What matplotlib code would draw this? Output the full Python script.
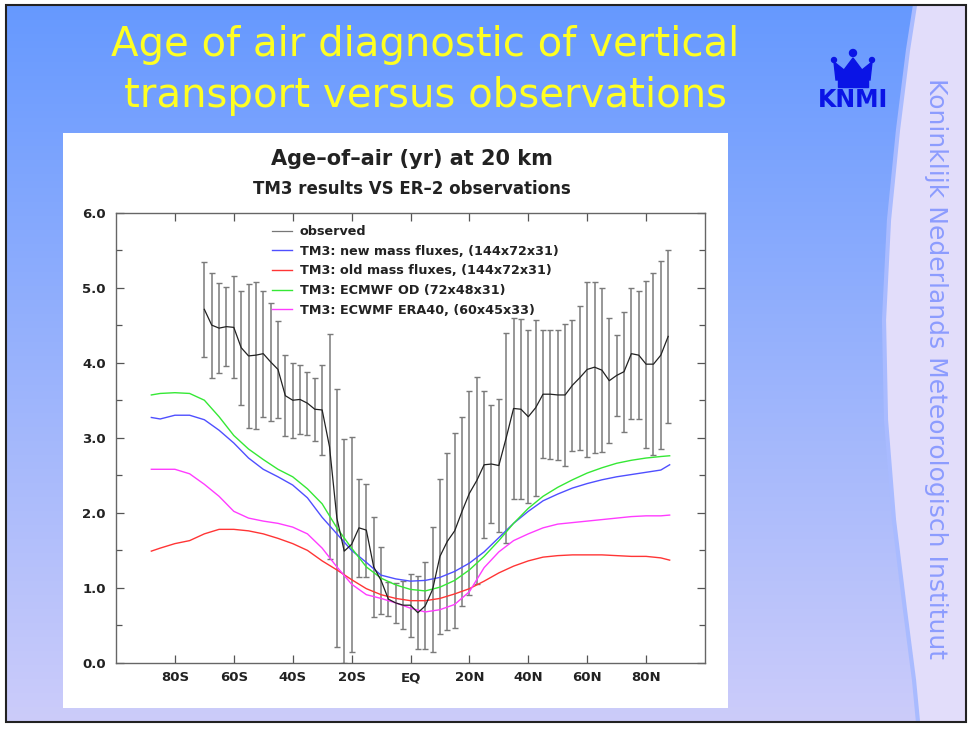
import numpy as np
import matplotlib
matplotlib.use("Agg")
import matplotlib.pyplot as plt
from matplotlib.patches import Rectangle, Polygon, Circle

# ---------------- data ----------------
# ER-2 observed age of air at 20 km (mean and 1-sigma spread)
obs_lat = [-70, -67.5, -65, -62.5, -60, -57.5, -55, -52.5, -50, -47.5,
           -45, -42.5, -40, -37.5, -35, -32.5, -30, -27.5, -25, -22.5,
           -20, -17.5, -15, -12.5, -10, -7.5, -5, -2.5, 0, 2.5,
           5, 7.5, 10, 12.5, 15, 17.5, 20, 22.5, 25, 27.5,
           30, 32.5, 35, 37.5, 40, 42.5, 45, 47.5, 50, 52.5,
           55, 57.5, 60, 62.5, 65, 67.5, 70, 72.5, 75, 77.5,
           80, 82.5, 85, 87.5]
obs_mean = [4.71, 4.50, 4.46, 4.48, 4.47, 4.20, 4.09, 4.10, 4.12, 4.01,
            3.91, 3.56, 3.50, 3.51, 3.46, 3.38, 3.37, 2.88, 1.93, 1.49,
            1.58, 1.80, 1.77, 1.28, 1.10, 0.85, 0.80, 0.77, 0.77, 0.67,
            0.76, 0.98, 1.42, 1.62, 1.76, 2.02, 2.26, 2.43, 2.64, 2.65,
            2.63, 3.00, 3.39, 3.38, 3.28, 3.40, 3.58, 3.58, 3.57, 3.57,
            3.70, 3.80, 3.91, 3.94, 3.90, 3.76, 3.83, 3.88, 4.12, 4.10,
            3.98, 3.98, 4.10, 4.35]
obs_err = [0.63, 0.70, 0.60, 0.53, 0.68, 0.76, 0.96, 0.98, 0.84, 0.79,
           0.65, 0.54, 0.50, 0.46, 0.42, 0.42, 0.60, 1.50, 1.72, 1.49,
           1.43, 0.65, 0.62, 0.67, 0.45, 0.23, 0.27, 0.32, 0.42, 0.49,
           0.58, 0.83, 1.03, 1.18, 1.30, 1.26, 1.36, 1.38, 0.98, 0.79,
           0.89, 1.40, 1.21, 1.20, 1.15, 1.17, 0.85, 0.86, 0.87, 0.95,
           0.87, 0.96, 1.17, 1.14, 1.09, 0.83, 0.54, 0.80, 0.87, 0.85,
           1.11, 1.21, 1.25, 1.15]

# TM3 zonal-mean age of air at 20 km
model_lat = [-88, -85, -80, -75, -70, -65, -60, -55, -50, -45, -40, -35,
             -30, -25, -20, -15, -10, -5, 0, 5, 10, 15, 20, 25, 30, 35,
             40, 45, 50, 55, 60, 65, 70, 75, 80, 85, 88]
tm3_new = [3.27, 3.25, 3.30, 3.30, 3.24, 3.10, 2.93, 2.73, 2.58, 2.48, 2.37, 2.20,
           1.94, 1.72, 1.50, 1.34, 1.17, 1.12, 1.09, 1.10, 1.14, 1.22, 1.33, 1.48,
           1.67, 1.86, 2.02, 2.16, 2.25, 2.33, 2.39, 2.44, 2.48, 2.51, 2.54, 2.57, 2.64]
tm3_old = [1.49, 1.53, 1.59, 1.63, 1.72, 1.78, 1.78, 1.76, 1.72, 1.66, 1.59, 1.50,
           1.36, 1.24, 1.11, 0.99, 0.91, 0.86, 0.83, 0.83, 0.86, 0.92, 0.99, 1.09,
           1.20, 1.29, 1.36, 1.41, 1.43, 1.44, 1.44, 1.44, 1.43, 1.42, 1.42, 1.40, 1.37]
tm3_od = [3.57, 3.59, 3.60, 3.59, 3.50, 3.28, 3.03, 2.85, 2.71, 2.58, 2.48, 2.32,
          2.12, 1.80, 1.53, 1.28, 1.13, 1.04, 0.98, 0.96, 1.01, 1.10, 1.24, 1.42,
          1.63, 1.86, 2.06, 2.22, 2.34, 2.44, 2.53, 2.60, 2.66, 2.70, 2.73, 2.75, 2.76]
tm3_era40 = [2.58, 2.58, 2.58, 2.52, 2.38, 2.22, 2.02, 1.93, 1.89, 1.86, 1.81, 1.72,
             1.53, 1.28, 1.05, 0.91, 0.86, 0.80, 0.73, 0.68, 0.71, 0.78, 0.95, 1.27,
             1.48, 1.63, 1.72, 1.80, 1.85, 1.87, 1.89, 1.91, 1.93, 1.95, 1.96, 1.96, 1.97]

lat_ticks = [-80, -60, -40, -20, 0, 20, 40, 60, 80]
lat_labels = ["80S", "60S", "40S", "20S", "EQ", "20N", "40N", "60N", "80N"]
age_ticks = [0, 1, 2, 3, 4, 5, 6]
age_labels = ["0.0", "1.0", "2.0", "3.0", "4.0", "5.0", "6.0"]

series_labels = ["observed",
                 "TM3: new mass fluxes, (144x72x31)",
                 "TM3: old mass fluxes, (144x72x31)",
                 "TM3: ECMWF OD (72x48x31)",
                 "TM3: ECWMF ERA40, (60x45x33)"]

W, H = 971, 731
fig = plt.figure(figsize=(W / 100, H / 100), dpi=100)
fig.patch.set_facecolor("white")

# ---------------- slide background ----------------
bg = fig.add_axes([0, 0, 1, 1])
bg.set_xlim(0, W)
bg.set_ylim(H, 0)
bg.axis("off")

top_c = np.array([0.40, 0.60, 1.00])
bot_c = np.array([0.80, 0.80, 0.98])
t = np.linspace(0, 1, 256)[:, None, None]
grad = top_c[None, None, :] * (1 - t) + bot_c[None, None, :] * t
bg.imshow(grad, extent=[6, 966, 722, 5], aspect="auto", zorder=0)

# lavender side strip with a curved edge
edge = [(915, 5), (908, 50), (898, 130), (889, 220), (884, 320), (886, 420),
        (894, 520), (905, 610), (914, 680), (918, 722)]
strip = Polygon(edge + [(966, 722), (966, 5)], closed=True,
                facecolor="#e2ddfa", edgecolor="none", zorder=1)
bg.add_patch(strip)
ex, ey = zip(*edge)
bg.plot(ex, ey, color="#a9bbff", lw=3.0, zorder=2, solid_capstyle="butt")

bg.text(936, 368, "Koninklijk Nederlands Meteorologisch Instituut",
        rotation=-90, ha="center", va="center", fontsize=18,
        color="#8c9cff", family=["DejaVu Sans"], zorder=3)

# KNMI logo
blue = "#0a14e6"
bg.text(853, 100, "KNMI", ha="center", va="center", fontsize=17,
        fontweight="bold", color=blue,
        family=["Liberation Sans Narrow", "DejaVu Sans Condensed", "DejaVu Sans"],
        zorder=3)
bg.add_patch(Rectangle((838, 80), 30, 7, color=blue, zorder=3))
bg.add_patch(Polygon([(836, 80), (834, 62), (844, 70), (853, 58), (862, 70),
                      (872, 62), (870, 80)], closed=True, color=blue, zorder=3))
for cx, cy, r in [(853, 53, 3.5), (834, 60, 2.5), (872, 60, 2.5)]:
    bg.add_patch(Circle((cx, cy), r, color=blue, zorder=3))

# slide title
title_font = ["Liberation Sans Narrow", "DejaVu Sans Condensed", "DejaVu Sans"]
bg.text(425, 45, "Age of air diagnostic of vertical", ha="center", va="center",
        fontsize=29, color="#ffff22", family=title_font, zorder=3)
bg.text(425, 96, "transport versus observations", ha="center", va="center",
        fontsize=29, color="#ffff22", family=title_font, zorder=3)

# white panel behind the plot
bg.add_patch(Rectangle((63, 133), 665, 575, facecolor="white", edgecolor="none",
                       zorder=4))
# slide frame
bg.add_patch(Rectangle((6, 5), 960, 717, fill=False, edgecolor="#222222",
                       lw=1.5, zorder=5))

# ---------------- plot ----------------
font = ["DejaVu Sans"]
ax = fig.add_axes([116 / W, 1 - 663 / H, (705 - 116) / W, (663 - 212.5) / H])
ax.set_facecolor("white")

ax.errorbar(obs_lat, obs_mean, yerr=obs_err, fmt="none", ecolor="#7a7a7a",
            elinewidth=1.1, capsize=2.2, capthick=1.0, zorder=2)
ax.plot(obs_lat, obs_mean, color="#222222", lw=0.9, zorder=4,
        label=series_labels[0])
ax.plot(model_lat, tm3_new, color="#4f4fff", lw=1.0, zorder=3,
        label=series_labels[1])
ax.plot(model_lat, tm3_old, color="#ff3535", lw=1.0, zorder=3,
        label=series_labels[2])
ax.plot(model_lat, tm3_od, color="#35e835", lw=1.0, zorder=3,
        label=series_labels[3])
ax.plot(model_lat, tm3_era40, color="#ff3cff", lw=1.0, zorder=3,
        label=series_labels[4])

ax.set_xlim(-100, 100)
ax.set_ylim(0, 6)
ax.set_xticks(lat_ticks)
ax.set_xticklabels(lat_labels)
ax.set_yticks(age_ticks)
ax.set_yticklabels(age_labels)
ax.set_yticks(np.arange(0.5, 6, 1.0), minor=True)
ax.tick_params(axis="both", which="both", direction="in", top=True, right=True,
               width=0.9, color="#555555")
ax.tick_params(axis="both", which="major", length=6, labelsize=9.5)
ax.tick_params(axis="y", which="major", pad=7.5)
ax.tick_params(axis="x", which="major", pad=6)
ax.tick_params(axis="y", which="minor", length=4)
ax.tick_params(axis="x", which="minor", bottom=False, top=False)
for lab in ax.get_xticklabels() + ax.get_yticklabels():
    lab.set_fontweight("bold")
    lab.set_family(font)
    lab.set_color("#222222")
for s in ax.spines.values():
    s.set_color("#666666")
    s.set_linewidth(1.0)

leg = ax.legend(loc="upper left", bbox_to_anchor=(0.265, 0.972), frameon=False,
                borderpad=0, borderaxespad=0, handlelength=1.55,
                handletextpad=0.62, labelspacing=0.52,
                prop={"family": font, "weight": "bold", "size": 9.2})
leg.get_lines()[0].set_color("#777777")
for txt in leg.get_texts():
    txt.set_color("#222222")

fig.text(412 / W, 1 - 159 / H, "Age\u2013of\u2013air (yr) at 20 km", ha="center",
         va="center", fontsize=15, fontweight="bold", family=font,
         color="#222222")
fig.text(412 / W, 1 - 189.5 / H, "TM3 results VS ER\u20132 observations",
         ha="center", va="center", fontsize=12, fontweight="bold",
         family=font, color="#222222")

fig.savefig("out.png", dpi=100, facecolor="white")
